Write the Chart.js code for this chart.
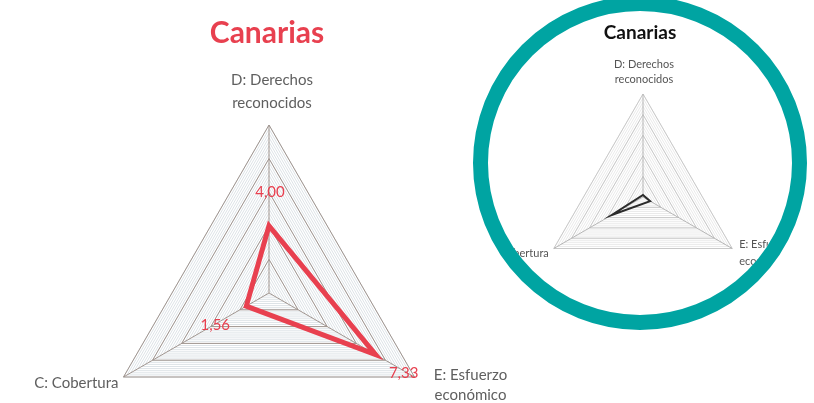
<!DOCTYPE html>
<html>
<head>
<meta charset="utf-8">
<script src="https://cdn.jsdelivr.net/npm/chart.js@4"></script>
<style>
  html, body { margin: 0; padding: 0; background: #fff; overflow: hidden; width: 814px; height: 403px; }
  #main { position: absolute; left: 0; top: 0; }
  #ring { position: absolute; left: 473px; top: -4px; width: 334px; height: 334px; box-sizing: border-box;
          border: 15px solid #00a4a2; border-radius: 50%; overflow: hidden; background: #fff; }
  #inset { position: absolute; left: 0; top: 0; }
</style>
</head>
<body>
<canvas id="main" width="600" height="480"></canvas>
<div id="ring"><canvas id="inset" width="304" height="304"></canvas></div>
<script>
// categorías (orden horario empezando arriba)
var categorias = ['D: Derechos reconocidos', 'E: Esfuerzo económico', 'C: Cobertura'];
var valores = [4.00, 7.33, 1.56];
var etiquetasValores = ['4,00', '7,33', '1,56'];
// gráfico pequeño dentro del círculo
var valoresInset = [0.2, 0.8, 3.5];
var escalaMin = 0;
var escalaMax = 10;
var escalaPaso = 2;

var fuente = "Lato, 'Open Sans', sans-serif";

// rayado fino entre anillos (anillos menores)
var rayado = {
  id: 'rayado',
  beforeDraw: function (chart, args, opts) {
    var s = chart.scales.r;
    var ctx = chart.ctx;
    ctx.save();
    ctx.strokeStyle = opts.color;
    ctx.lineWidth = 1;
    for (var v = opts.step; v <= escalaMax + 0.001; v += opts.step) {
      ctx.beginPath();
      for (var i = 0; i < categorias.length; i++) {
        var p = s.getPointPositionForValue(i, v);
        if (i == 0) ctx.moveTo(p.x, p.y); else ctx.lineTo(p.x, p.y);
      }
      ctx.closePath();
      ctx.stroke();
    }
    ctx.restore();
  }
};

// textos: título, nombres de ejes y valores
var textos = {
  id: 'textos',
  afterDatasetsDraw: function (chart, args, opts) {
    var s = chart.scales.r;
    var ctx = chart.ctx;
    ctx.save();
    ctx.textBaseline = 'middle';
    // título
    ctx.font = opts.titulo.font;
    ctx.fillStyle = opts.titulo.color;
    ctx.textAlign = 'center';
    ctx.fillText('Canarias', opts.titulo.x, opts.titulo.y);
    // ejes
    ctx.font = opts.ejes.font;
    ctx.fillStyle = opts.ejes.color;
    for (var i = 0; i < categorias.length; i++) {
      var v = s.getPointPositionForValue(i, escalaMax);
      var e = opts.ejes.pos[i];
      ctx.textAlign = e.align;
      for (var l = 0; l < e.lineas.length; l++) {
        ctx.fillText(e.lineas[l], v.x + e.dx, v.y + e.dy[l]);
      }
    }
    // valores
    if (opts.valores) {
      ctx.font = opts.valores.font;
      ctx.fillStyle = opts.valores.color;
      ctx.textAlign = 'center';
      var datos = chart.data.datasets[0].data;
      for (var j = 0; j < datos.length; j++) {
        var p = s.getPointPositionForValue(j, datos[j]);
        var o = opts.valores.pos[j];
        ctx.fillText(etiquetasValores[j], p.x + o[0], p.y + o[1]);
      }
    }
    ctx.restore();
  }
};

function escala(gridColor, angleColor) {
  return {
    r: {
      min: escalaMin,
      max: escalaMax,
      ticks: { display: false, stepSize: escalaPaso },
      pointLabels: { display: false },
      grid: { color: gridColor, lineWidth: 1 },
      angleLines: { color: angleColor, lineWidth: 1 }
    }
  };
}

new Chart(document.getElementById('main'), {
  type: 'radar',
  data: {
    labels: categorias,
    datasets: [{
      data: valores,
      borderColor: '#e8404f',
      borderWidth: 5,
      pointRadius: 0,
      fill: false,
      tension: 0
    }]
  },
  options: {
    responsive: false,
    animation: false,
    layout: { padding: { left: 101, top: 125, right: 163, bottom: 19 } },
    scales: escala('#a0958f', '#a0958f'),
    plugins: {
      legend: { display: false },
      tooltip: { enabled: false },
      rayado: { color: '#dde3e7', step: 0.25 },
      textos: {
        titulo: { text: 'Canarias', x: 267, y: 33, font: "bold 30px " + fuente, color: '#e8404f' },
        ejes: {
          font: "15px " + fuente, color: '#5f5f5f',
          pos: [
            { lineas: ['D: Derechos', 'reconocidos'], align: 'center', dx: 3, dy: [-45, -22] },
            { lineas: ['E: Esfuerzo', 'económico'], align: 'center', dx: 56, dy: [-2, 18] },
            { lineas: ['C: Cobertura'], align: 'right', dx: -5, dy: [6] }
          ]
        },
        valores: { font: "15px " + fuente, color: '#e8404f', pos: [[1, -34], [28, 19], [-31, 19]] }
      }
    }
  },
  plugins: [rayado, textos]
});

new Chart(document.getElementById('inset'), {
  type: 'radar',
  data: {
    labels: categorias,
    datasets: [{
      data: valoresInset,
      borderColor: '#2b2b2b',
      borderWidth: 2,
      pointRadius: 0,
      fill: false,
      tension: 0
    }]
  },
  options: {
    responsive: false,
    animation: false,
    layout: { padding: { left: 52, top: 83, right: 46, bottom: 15 } },
    scales: escala('#c9c9c9', '#b5b5b5'),
    plugins: {
      legend: { display: false },
      tooltip: { enabled: false },
      rayado: { color: '#eaeaea', step: 0.4 },
      textos: {
        titulo: { text: 'Canarias', x: 152, y: 22, font: "bold 19px " + fuente, color: '#111' },
        ejes: {
          font: "11px " + fuente, color: '#555',
          pos: [
            { lineas: ['D: Derechos', 'reconocidos'], align: 'center', dx: 1, dy: [-30, -15] },
            { lineas: ['E: Esfuerzo', 'económico'], align: 'left', dx: 7, dy: [-4, 13] },
            { lineas: ['C: Cobertura'], align: 'right', dx: -5, dy: [5] }
          ]
        }
      }
    }
  },
  plugins: [rayado, textos]
});
</script>
</body>
</html>
